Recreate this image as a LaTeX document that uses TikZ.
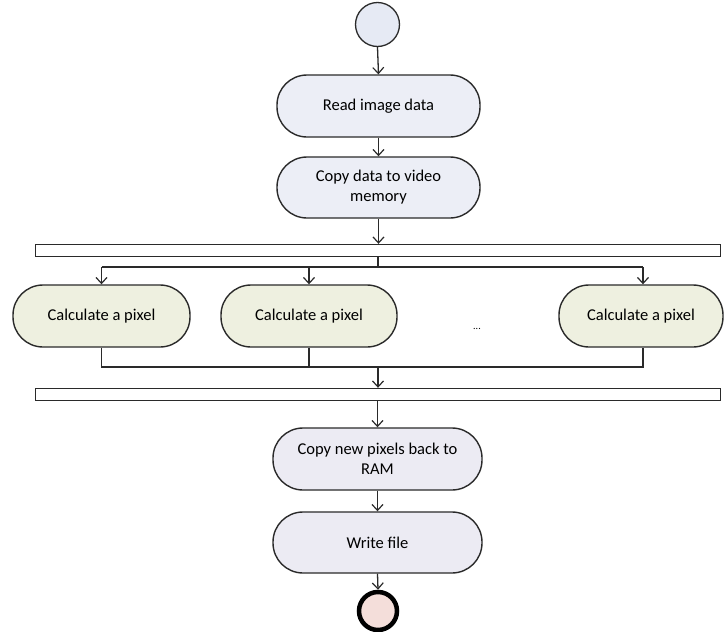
\documentclass[tikz,border=0pt]{standalone}
\usepackage{fontspec}
\setmainfont{Carlito}
\usetikzlibrary{arrows.meta}
\definecolor{startfill}{HTML}{E6EAF4}
\definecolor{topfill}{HTML}{ECEEF6}
\definecolor{calcfill}{HTML}{EEF0E0}
\definecolor{botfill}{HTML}{ECEBF3}
\definecolor{endfill}{HTML}{F4DEDA}
\definecolor{linec}{HTML}{2A2A2A}
\tikzset{
  act/.style={draw=linec, line width=1.4pt, rounded corners=30pt, align=center,
    inner sep=0pt, font=\fontsize{16.5}{20}\selectfont},
  bar/.style={draw=linec, line width=1.4pt, fill=white, minimum width=685pt,
    minimum height=12pt, inner sep=0pt},
  conn/.style={draw=linec, line width=1.3pt},
  arr/.style={conn, -{Straight Barb[length=6pt,width=11pt,line width=1.2pt]}},
}
\begin{document}
\begin{tikzpicture}[x=1pt,y=-1pt]
\useasboundingbox (0,0) rectangle (724,632);
% start
\node[circle, draw=linec, line width=1.3pt, fill=startfill, minimum size=44pt, inner sep=0pt] (start) at (377.5,24.5) {};
\node[act, fill=topfill, minimum width=203pt, minimum height=62pt] (read) at (378.5,106) {Read image data};
\node[act, fill=topfill, minimum width=203pt, minimum height=61pt] (copy) at (378.5,187.5) {Copy data to video\\memory};
\node[bar] (fork) at (378,250.5) {};
\node[act, fill=calcfill, minimum width=177pt, minimum height=62pt] (calc1) at (101.5,316) {Calculate a pixel};
\node[act, fill=calcfill, minimum width=176pt, minimum height=62pt] (calc2) at (309,316) {Calculate a pixel};
\node[act, fill=calcfill, minimum width=164pt, minimum height=62pt] (calc3) at (641,316) {Calculate a pixel};
\node[font=\fontsize{10}{10}\selectfont, inner sep=0pt] (dots) at (477,329) {...};
\node[bar] (join) at (378,394.5) {};
\node[act, fill=botfill, minimum width=209pt, minimum height=62pt] (copyback) at (377.5,459) {Copy new pixels back to\\RAM};
\node[act, fill=botfill, minimum width=209pt, minimum height=61pt] (write) at (377.5,542.5) {Write file};
\node[circle, draw=black, line width=4.5pt, fill=endfill, minimum size=38pt, inner sep=0pt] (end) at (378,611) {};
% coordinates
\coordinate (dsplit) at (378,267);
\coordinate (d1) at (101.5,267);
\coordinate (d2) at (309,267);
\coordinate (d3) at (643,267);
\coordinate (jmerge) at (378,367);
\coordinate (j1) at (101.5,367);
\coordinate (j2) at (309,367);
\coordinate (j3) at (643,367);
% connectors
\draw[arr] (start.south) -- (read.north);
\draw[arr] (read.south) -- (copy.north);
\draw[arr] (copy.south) -- (fork.north -| copy.south);
\draw[conn] (fork.south -| dsplit) -- (dsplit);
\draw[conn] (d1) -- (d3);
\draw[arr] (d1) -- (calc1.north);
\draw[arr] (d2) -- (calc2.north);
\draw[arr] (d3) -- (calc3.north -| d3);
\draw[conn] (calc1.south) -- (j1) -- (j3) -- (calc3.south -| j3);
\draw[conn] (calc2.south) -- (j2);
\draw[arr] (jmerge) -- (join.north -| jmerge);
\draw[arr] (join.south -| copyback.north) -- (copyback.north);
\draw[arr] (copyback.south) -- (write.north);
\draw[arr] (write.south) -- (end.north);
\end{tikzpicture}
\end{document}
